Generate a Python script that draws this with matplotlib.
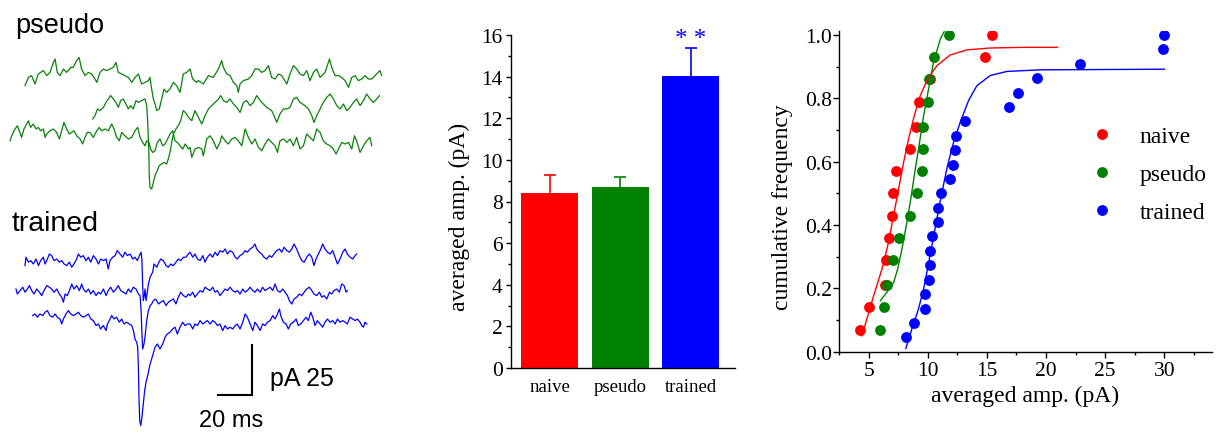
import numpy as np
import matplotlib.pyplot as plt
from matplotlib.ticker import MultipleLocator

plt.rcParams['font.family'] = ['Liberation Serif', 'DejaVu Serif']
SANS = ['Liberation Sans', 'DejaVu Sans']

# ---------------- example traces: (time ms, current pA relative to trace baseline)
pseudo_1 = [(14.7, -7.3), (16.7, -3.2), (18.6, -2.3), (20.6, -6.5), (22.5, -1.5), (25.5, 0.2), (27.5, -2.3),
            (29.4, -0.7), (31.4, 4.3), (32.4, 6.0), (33.7, -0.7), (35.3, -2.3), (37.3, 1.0), (39.2, -0.7),
            (41.6, 1.8), (43.1, 1.8), (45.1, 5.2), (46.5, 6.8), (48.0, 1.0), (50.0, -2.3), (52.0, -0.7),
            (53.9, -1.5), (55.9, -4.0), (56.9, -5.7), (58.8, -0.7), (60.8, 1.0), (62.7, 0.2), (64.7, 1.0),
            (66.7, 1.8), (68.2, 4.3), (69.6, -0.7), (71.6, -1.5), (73.5, -2.3), (75.5, -3.2), (77.5, -5.7),
            (79.4, -3.2), (81.4, -1.5), (83.3, -6.5), (85.3, -5.7), (87.3, -4.8), (88.2, -3.2), (89.2, -9.0),
            (90.2, -14.0), (91.2, -16.5), (92.2, -19.8), (93.7, -19.0), (95.1, -14.0), (96.5, -9.0),
            (98.0, -10.7), (100.0, -9.0), (102.0, -5.7), (103.9, -7.3), (105.9, -10.7), (107.8, -1.5),
            (109.8, -0.7), (111.8, 1.0), (113.3, -4.0), (115.7, -5.7), (116.7, -4.8), (119.6, -6.5),
            (122.6, -2.3), (125.5, -3.2), (128.5, 1.0), (130.4, 5.2), (131.4, 1.8), (133.4, -1.5),
            (135.3, -2.3), (137.3, -5.7), (139.3, -7.3), (140.2, -10.7), (141.2, -6.5), (143.2, -4.8),
            (146.1, -4.0), (148.1, -2.3), (150.0, 1.0), (152.0, 1.0), (154.0, -0.7), (155.9, 0.2),
            (157.9, 2.7), (159.8, -3.2), (161.8, -4.0), (163.8, -1.5), (165.7, -2.3), (168.7, -6.5),
            (170.6, -1.5), (172.6, 2.7), (174.5, 1.0), (176.5, -1.5), (178.5, -2.3), (180.4, 0.2),
            (182.4, -4.8), (184.4, -0.7), (186.3, 1.0), (188.3, -3.2), (191.2, -0.7), (193.8, 6.0),
            (195.1, 1.8), (197.1, -2.3), (199.1, -2.3), (201.0, -3.2), (203.0, -4.8), (205.0, -8.2),
            (206.9, -3.2), (208.9, -2.3), (210.8, -4.8), (212.8, -4.0), (214.7, -2.3), (216.7, -4.0),
            (218.7, -4.0), (220.6, -2.3), (223.5, 0.2), (224.5, -2.3)]

pseudo_2 = [(54.5, -6.0), (55.9, -4.3), (57.3, -1.0), (58.8, -1.8), (60.8, -0.2), (62.4, 2.3), (63.7, 4.0),
            (65.1, 5.7), (66.7, 4.0), (68.2, 2.3), (69.6, -0.2), (71.0, 3.2), (72.5, 4.0), (74.1, 1.5),
            (75.5, -1.0), (76.9, 0.7), (78.4, -1.0), (80.0, 3.2), (81.4, 2.3), (83.3, 3.2), (85.3, 4.0),
            (86.3, 0.7), (86.9, -7.7), (87.5, -21.0), (87.8, -34.3), (88.2, -40.2), (89.2, -41.0),
            (90.2, -37.7), (91.2, -34.3), (92.5, -31.8), (93.7, -29.3), (95.1, -28.5), (96.5, -27.7),
            (98.0, -28.5), (99.0, -26.0), (100.0, -22.7), (101.0, -17.7), (102.0, -13.5), (103.5, -11.0),
            (104.9, -9.3), (106.3, -6.8), (107.8, -1.8), (109.0, -2.7), (110.2, -4.3), (111.8, -6.0),
            (112.8, -6.8), (114.7, -1.8), (116.7, -5.2), (118.7, -8.5), (120.6, -4.3), (122.6, -1.0),
            (124.5, 0.7), (126.5, 2.3), (128.5, 4.0), (129.8, 5.7), (131.4, 3.2), (133.4, 2.3), (135.3, 4.0),
            (137.3, 1.5), (139.3, -0.2), (141.2, -2.7), (143.2, 2.3), (145.1, 3.2), (147.1, 0.7),
            (149.1, 2.3), (151.0, 5.7), (153.0, 3.2), (154.9, 1.5), (156.9, -0.2), (159.8, -1.8),
            (161.2, -4.3), (162.8, -7.7), (164.7, -3.5), (166.7, -1.0), (168.7, -1.0), (170.6, -0.2),
            (172.6, 4.0), (174.5, 4.8), (176.5, 2.3), (179.4, 0.7), (181.4, -1.0), (183.4, -4.3),
            (184.7, -7.7), (186.3, -4.3), (188.3, -1.0), (190.2, 2.3), (192.2, 4.8), (194.2, 6.5),
            (196.1, 4.0), (198.1, 0.7), (200.0, -1.0), (202.0, 1.5), (204.0, -1.8), (205.9, -0.2),
            (207.9, 2.3), (209.8, 4.0), (211.8, 0.7), (213.8, 3.2), (215.7, 6.5), (217.7, 4.0),
            (219.6, 2.3), (221.6, 4.0), (223.2, 5.7)]

pseudo_3 = [(5.9, -4.2), (6.9, -1.7), (8.8, 1.7), (10.2, 3.3), (11.4, 0.8), (12.7, -2.5), (14.1, 1.7),
            (15.7, 4.2), (16.7, 5.8), (18.0, 2.5), (19.6, 4.2), (21.2, 1.7), (22.5, 2.5), (23.9, 0.8),
            (25.5, 1.7), (26.5, -2.5), (27.5, -0.8), (29.4, 0.8), (31.4, 1.7), (33.3, 0.0), (34.9, -3.3),
            (36.3, 0.8), (37.6, 5.0), (39.2, 1.7), (40.8, -0.8), (42.2, 0.0), (43.5, 0.8), (45.1, -1.7),
            (47.1, -3.3), (48.6, -5.8), (50.0, -2.5), (51.4, 0.0), (52.9, 0.0), (54.9, -2.5), (56.9, 0.8),
            (58.4, 2.5), (59.8, 0.8), (61.8, 1.7), (63.7, 0.8), (65.7, 4.2), (67.1, 1.7), (68.6, -2.5),
            (70.2, -4.2), (71.6, 0.0), (73.5, -1.7), (75.5, -3.3), (77.5, -2.5), (79.4, 0.8), (81.0, 2.5),
            (82.4, -2.5), (83.9, -5.0), (85.3, -6.7), (86.3, -4.2), (87.6, -5.0), (88.6, -8.3),
            (89.8, -10.0), (91.2, -9.2), (92.5, -5.0), (94.1, -3.3), (95.7, -6.7), (97.1, -5.8),
            (98.6, -3.3), (100.0, -0.8), (101.6, 0.8), (102.9, -4.2), (104.3, -5.0), (105.9, -6.7),
            (107.5, -8.3), (109.0, -5.8), (110.8, -8.3), (111.8, -7.5), (112.8, -12.5), (114.7, -8.3),
            (116.7, -7.5), (118.7, -8.3), (119.6, -11.7), (121.6, -3.3), (123.6, -1.7), (125.5, -4.2),
            (127.5, -8.3), (129.4, -5.0), (130.4, -1.7), (132.4, -4.2), (134.3, -5.8), (136.3, -3.3),
            (138.3, -2.5), (140.2, -4.2), (142.2, -6.7), (144.2, 1.7), (146.1, -2.5), (148.1, -5.8),
            (150.0, -3.3), (152.0, -7.5), (154.0, -9.2), (155.9, -5.8), (157.9, -3.3), (159.8, -5.0),
            (161.8, -6.7), (163.2, -10.0), (164.7, -4.2), (166.7, -3.3), (168.7, -5.0), (170.6, -3.3),
            (172.6, -6.7), (174.5, -2.5), (176.5, -8.3), (178.5, -6.7), (180.4, -0.8), (182.4, -2.5),
            (184.4, -4.2), (186.3, 1.7), (188.3, 0.0), (190.2, -4.2), (192.2, -5.8), (194.2, -6.7),
            (196.1, -8.3), (197.7, -10.8), (199.1, -8.3), (201.0, -5.0), (203.0, -5.8), (205.0, -5.0),
            (206.9, -8.3), (208.5, -1.7), (209.8, -4.2), (211.8, -10.0), (213.8, -6.7), (215.7, -4.2),
            (217.6, -2.5), (218.7, -6.7)]

trained_1 = [(14.7, -2.5), (15.3, 1.7), (16.7, -0.8), (18.1, 0.0), (19.6, -1.7), (21.2, 0.8), (22.6, -2.5),
             (23.9, 0.0), (25.5, 1.7), (26.5, -1.7), (27.9, 0.8), (29.0, 3.3), (30.4, 2.5), (31.8, 0.0),
             (33.4, 0.8), (34.9, -0.8), (36.3, 0.0), (37.7, -1.7), (39.2, -2.5), (40.8, -0.8), (42.2, -3.3),
             (43.5, -1.7), (45.1, 0.8), (46.1, 3.3), (47.5, 1.7), (49.0, 2.5), (50.6, 0.0), (52.0, 1.7),
             (53.4, -0.8), (54.9, 2.5), (56.5, 0.8), (57.9, -1.7), (59.2, 0.8), (60.8, 0.0), (62.4, 0.8),
             (63.7, -4.2), (64.7, 0.0), (66.3, 1.7), (67.7, 2.5), (69.0, 5.0), (70.6, 3.3), (72.2, 1.7),
             (73.5, 4.2), (74.9, 2.5), (76.5, 3.3), (78.1, 0.8), (79.4, 1.7), (80.8, 0.0), (82.0, 2.5),
             (83.0, 4.2), (83.5, 0.0), (83.9, -11.7), (84.3, -20.0), (84.9, -17.5), (85.3, -14.2),
             (85.9, -20.0), (86.5, -16.7), (87.3, -11.7), (88.3, -8.3), (89.8, -5.8), (90.6, -1.7),
             (92.2, -3.3), (93.5, -0.8), (94.5, 0.8), (96.1, 0.0), (97.7, -2.5), (99.0, -3.3), (100.4, -1.7),
             (102.0, -2.5), (103.5, -0.8), (104.9, 0.8), (106.3, 0.0), (107.9, 1.7), (109.4, 1.7),
             (110.8, 3.3), (111.8, 4.2), (113.4, 1.7), (114.7, 3.3), (116.1, 0.8), (117.7, 0.0), (119.3, 2.5),
             (120.6, -0.8), (122.0, 1.7), (123.6, 3.3), (125.1, 1.7), (126.5, 4.2), (127.9, 2.5), (129.4, 5.0),
             (131.0, 4.2), (132.4, 5.8), (133.8, 3.3), (135.3, 5.0), (136.9, 4.2), (138.3, 1.7), (139.6, 0.8),
             (141.2, 2.5), (142.8, 3.3), (144.2, 5.0), (145.5, 4.2), (147.1, 5.8), (148.7, 6.7), (150.0, 8.3),
             (151.0, 5.8), (152.6, 4.2), (154.0, 3.3), (155.3, 1.7), (156.9, 0.8), (158.5, 2.5), (159.8, 1.7),
             (161.2, 3.3), (162.8, 5.0), (164.4, 5.8), (165.7, 4.2), (167.1, 6.7), (168.7, 5.0), (170.2, 4.2),
             (171.6, 5.8), (173.0, 8.3), (174.5, 5.8), (176.1, 2.5), (177.5, 0.0), (178.9, -0.8), (180.4, 1.7),
             (182.0, 3.3), (183.4, 1.7), (184.7, -2.5), (185.9, 0.8), (187.3, 3.3), (188.7, 5.8), (189.8, 8.3),
             (191.2, 5.8), (192.6, 4.2), (194.2, 3.3), (195.7, 5.0), (197.1, 1.7), (198.5, -1.7), (200.0, 0.8),
             (201.6, 4.2), (203.0, 5.8), (204.3, 3.3), (205.9, 1.7), (207.5, 0.8), (208.9, 2.5), (209.8, 3.3)]

trained_2 = [(9.4, 0.8), (10.2, -1.7), (11.8, 0.0), (13.4, 1.7), (14.7, -0.8), (16.1, 0.8), (17.3, 2.5),
             (18.6, 0.0), (20.0, -1.7), (21.6, 0.8), (23.2, -0.8), (24.5, -2.5), (25.9, 0.0), (27.5, 2.5),
             (29.0, 1.7), (30.4, 0.8), (31.8, -0.8), (33.4, 0.8), (34.9, -1.7), (36.3, -3.3), (37.3, -5.8),
             (38.3, -1.7), (39.6, -2.5), (41.2, 0.8), (42.2, 3.3), (43.5, 0.8), (45.1, 2.5), (46.7, 0.0),
             (48.1, 3.3), (49.0, 0.8), (50.6, -0.8), (52.0, 0.8), (53.4, -1.7), (54.9, 0.0), (56.5, -2.5),
             (57.9, -0.8), (59.2, -1.7), (60.8, 0.8), (62.4, -2.5), (63.7, 0.0), (65.1, 1.7), (66.7, -0.8),
             (68.3, 0.8), (69.6, 2.5), (71.0, 0.0), (72.6, -0.8), (74.1, -1.7), (75.5, 0.8), (76.9, -0.8),
             (78.4, 1.7), (80.0, 0.8), (81.4, -1.7), (82.4, -2.5), (83.0, -10.0), (83.5, -21.7),
             (83.9, -29.2), (84.7, -26.7), (85.5, -21.7), (86.3, -15.0), (87.3, -10.0), (88.3, -7.5),
             (89.2, -6.7), (90.2, -5.0), (91.6, -4.2), (93.2, -6.7), (94.5, -5.8), (96.1, -5.0), (97.7, -7.5),
             (99.0, -5.8), (100.4, -5.0), (102.0, -4.2), (103.5, -6.7), (104.9, -3.3), (106.3, -0.8),
             (107.9, -2.5), (109.4, -3.3), (110.8, -1.7), (111.8, -2.5), (113.4, -0.8), (114.7, -3.3),
             (116.1, -1.7), (117.7, 0.0), (119.3, -0.8), (120.6, 1.7), (122.0, 0.8), (123.6, 0.0),
             (125.1, 1.7), (126.5, -0.8), (127.9, 0.0), (129.4, -2.5), (131.0, -0.8), (132.4, 0.8),
             (133.8, 0.0), (135.3, 1.7), (136.9, 0.0), (138.3, -0.8), (139.6, 0.0), (141.2, -1.7),
             (142.8, 0.8), (144.2, -0.8), (145.5, 0.0), (147.1, 1.7), (148.7, 0.0), (150.0, -0.8),
             (151.4, 0.8), (153.0, -0.8), (154.5, 1.7), (155.9, 0.0), (157.3, 0.8), (158.9, 1.7),
             (160.4, 0.0), (161.8, 3.3), (163.2, 0.0), (164.7, -0.8), (166.3, 0.8), (167.7, -0.8),
             (169.1, -2.5), (170.2, -5.0), (171.6, -6.7), (173.0, -4.2), (174.5, -3.3), (176.1, -1.7),
             (177.5, -2.5), (178.9, -0.8), (180.4, 0.8), (182.0, 1.7), (183.4, 0.0), (184.7, -1.7),
             (186.3, -2.5), (187.9, -0.8), (189.3, -3.3), (190.6, -2.5), (192.2, -4.2), (193.8, -0.8),
             (195.1, -1.7), (196.5, 0.0), (198.1, 0.8), (199.6, -0.8), (201.0, 3.3), (202.4, 2.5),
             (203.6, -0.8), (204.3, 0.0)]

trained_3 = [(19.2, 0.0), (20.6, 0.8), (22.0, -0.8), (23.5, 0.8), (25.1, 0.0), (26.5, 1.7), (27.9, 2.5),
             (29.4, 0.0), (31.0, -0.8), (32.4, 0.8), (33.7, -0.8), (35.3, -1.7), (36.3, -4.2), (37.3, -1.7),
             (38.8, 0.8), (40.2, 2.5), (41.6, 0.8), (43.2, 0.0), (44.7, 0.8), (46.1, 1.7), (47.5, 0.0),
             (49.0, -0.8), (50.6, 0.0), (52.0, 0.8), (53.4, -1.7), (54.9, -2.5), (56.5, -5.0), (57.9, -4.2),
             (59.2, -6.7), (60.8, -5.0), (62.4, -7.5), (63.2, -4.2), (64.3, -2.5), (65.7, 0.0), (67.1, -1.7),
             (68.6, -0.8), (70.2, -3.3), (71.6, -1.7), (72.9, -4.2), (74.5, -3.3), (76.1, -4.2), (77.5, -5.0),
             (78.5, -7.5), (79.4, -11.7), (80.4, -13.3), (81.0, -15.8), (81.4, -25.8), (81.8, -42.5),
             (82.2, -52.5), (82.8, -55.0), (83.5, -50.8), (84.3, -44.2), (85.1, -37.5), (85.9, -33.3),
             (87.1, -29.2), (88.3, -24.2), (89.8, -20.0), (91.2, -15.8), (92.6, -14.2), (94.1, -16.7),
             (95.7, -14.2), (97.1, -10.8), (98.4, -9.2), (100.0, -8.3), (101.6, -6.7), (103.0, -5.8),
             (104.3, -9.2), (105.9, -5.8), (107.5, -3.3), (108.8, -5.0), (110.2, -4.2), (111.8, -4.2),
             (113.4, -6.7), (114.7, -4.2), (116.1, -5.0), (117.7, -2.5), (119.3, -4.2), (120.6, -3.3),
             (122.0, -2.5), (123.6, -4.2), (125.1, -2.5), (126.5, -3.3), (127.9, -5.0), (129.4, -4.2),
             (131.0, -7.5), (132.4, -5.0), (133.8, -6.7), (135.3, -5.8), (136.9, -6.7), (138.3, -5.0),
             (139.6, -4.2), (141.2, -6.7), (142.8, -3.3), (144.2, 0.8), (145.5, -0.8), (147.1, -4.2),
             (148.7, -7.5), (150.0, -3.3), (151.4, -5.0), (153.0, -7.5), (154.5, -4.2), (155.9, -5.0),
             (157.3, -3.3), (158.9, -2.5), (160.4, 0.0), (161.8, -1.7), (163.2, 0.8), (164.4, 3.3),
             (165.1, 0.0), (166.7, -3.3), (168.3, -4.2), (169.6, -6.7), (171.0, -4.2), (172.6, -3.3),
             (174.2, -1.7), (175.5, -5.0), (176.9, -4.2), (178.5, -2.5), (180.0, -0.8), (181.4, -2.5),
             (182.8, 1.7), (184.0, -0.8), (185.3, -5.0), (186.7, -2.5), (188.3, -4.2), (189.8, -5.8),
             (191.2, -3.3), (192.6, -1.7), (194.2, -3.3), (195.7, -2.5), (197.1, -4.2), (198.5, -1.7),
             (200.0, -3.3), (201.6, -2.5), (203.0, -3.3), (204.3, -4.2), (205.9, -0.8), (207.5, -1.7),
             (208.9, -2.5), (210.2, -1.7), (211.8, -3.3), (212.8, -5.0), (213.8, -5.8), (214.7, -3.3),
             (215.7, -4.2)]

# vertical stacking of the traces (pA)
pseudo_offsets = [-36.0, -54.0, -66.7]
trained_offsets = [-130.8, -145.8, -158.3]

# ---------------- bar chart
groups = ['naive', 'pseudo', 'trained']
mean_amp = [8.4, 8.7, 14.05]
sem_amp = [0.87, 0.46, 1.33]
colors = ['#ff0000', '#008000', '#0000ff']

# ---------------- cumulative frequency
naive_amp = [4.30, 5.00, 6.41, 6.49, 6.72, 7.00, 7.06, 7.28, 8.52, 9.03, 9.25, 10.21, 14.83, 15.39]
naive_cum = [0.07, 0.14, 0.21, 0.29, 0.36, 0.43, 0.50, 0.57, 0.64, 0.71, 0.79, 0.86, 0.93, 1.00]
pseudo_amp = [5.93, 6.32, 6.55, 7.06, 7.56, 8.52, 9.08, 9.53, 9.59, 9.59, 10.04, 10.10, 10.49, 11.78]
pseudo_cum = [0.07, 0.14, 0.21, 0.29, 0.36, 0.43, 0.50, 0.57, 0.64, 0.71, 0.79, 0.86, 0.93, 1.00]
trained_amp = [8.13, 8.80, 9.76, 9.81, 10.12, 10.18, 10.21, 10.32, 10.88, 10.88, 11.08, 11.90, 12.12,
               12.32, 12.38, 13.14, 16.85, 17.67, 19.27, 22.88, 29.86, 29.97]
trained_cum = [0.045, 0.091, 0.136, 0.182, 0.227, 0.273, 0.318, 0.364, 0.409, 0.455, 0.500, 0.545,
               0.591, 0.636, 0.682, 0.727, 0.773, 0.818, 0.864, 0.909, 0.955, 1.000]

# fitted curves
naive_fit_x = [4.44, 5.43, 6.13, 6.69, 7.11, 7.54, 7.96, 8.38, 8.86, 9.37, 9.99, 10.77, 11.90, 13.31,
               15.28, 18.10, 20.97]
naive_fit_y = [0.05, 0.177, 0.261, 0.346, 0.43, 0.514, 0.598, 0.672, 0.745, 0.809, 0.861, 0.903, 0.937,
               0.953, 0.959, 0.961, 0.961]
pseudo_fit_x = [6.0, 6.55, 7.12, 7.46, 7.82, 8.24, 8.61, 8.95, 9.31, 9.65, 10.07, 10.49, 11.06, 11.48]
pseudo_fit_y = [0.161, 0.188, 0.219, 0.261, 0.324, 0.409, 0.493, 0.577, 0.661, 0.745, 0.829, 0.914,
                0.987, 1.017]
trained_fit_x = [8.15, 8.66, 9.22, 9.65, 9.98, 10.35, 10.77, 11.20, 11.67, 12.18, 12.74, 13.45, 14.15,
                 15.28, 16.69, 19.50, 30.0]
trained_fit_y = [0.01, 0.072, 0.135, 0.198, 0.261, 0.335, 0.419, 0.503, 0.587, 0.661, 0.724, 0.793,
                 0.840, 0.872, 0.885, 0.890, 0.892]

W, H = 1217, 435
fig = plt.figure(figsize=(W / 100, H / 100), dpi=100)

# ---------------- left: traces
ax0 = fig.add_axes([0, 0, 400 / W, 1])
ax0.set_xlim(0, 400 / 1.7)
ax0.set_ylim(-H / 2, 0)
ax0.axis('off')
for tr, off in zip([pseudo_1, pseudo_2, pseudo_3], pseudo_offsets):
    t, i = np.array(tr).T
    ax0.plot(t, i + off, color='#0a800a', lw=0.9)
for tr, off in zip([trained_1, trained_2, trained_3], trained_offsets):
    t, i = np.array(tr).T
    ax0.plot(t, i + off, color='#0000ff', lw=0.9)

# scale bar 20 ms / 25 pA
ax0.plot([148 - 20, 148, 148], [-198, -198, -198 + 25], color='black', lw=1.5, solid_joinstyle='miter')
ax0.text(158.8, -189.5, 'pA 25', ha='left', va='center', fontsize=18, family=SANS)
ax0.text(136.2, -210.5, '20 ms', ha='center', va='center', fontsize=17, family=SANS)
ax0.text(8.8, -16.7, 'pseudo', ha='left', va='baseline', fontsize=19.5, family=SANS)
ax0.text(6.9, -115.3, 'trained', ha='left', va='baseline', fontsize=20.5, family=SANS)

# ---------------- middle: bar chart
ax1 = fig.add_axes([511 / W, 1 - 369 / H, 224 / W, 333 / H])
x = np.arange(len(groups))
ax1.bar(x, mean_amp, width=0.81, color=colors, zorder=2)
for xi, m, s, c in zip(x, mean_amp, sem_amp, colors):
    # symmetric bar hidden below the bar top, so only the upper half shows
    ax1.errorbar(xi, m, yerr=s, fmt='none', ecolor=c, elinewidth=1.2, capsize=4.5,
                 capthick=1.2, zorder=1)
ax1.text(2, 15.5, '* *', ha='center', va='baseline', color='#0000ff', fontsize=18)
ax1.set_xlim(-0.55, 2.63)
ax1.set_ylim(0, 16)
ax1.set_xticks(x)
ax1.set_xticklabels(groups, fontsize=13.5)
ax1.tick_params(axis='x', length=0, pad=7)
ax1.yaxis.set_major_locator(MultipleLocator(2))
ax1.yaxis.set_minor_locator(MultipleLocator(1))
ax1.tick_params(axis='y', which='major', length=3.5, width=1, labelsize=15.5, pad=2.5)
ax1.tick_params(axis='y', which='minor', length=2, width=1)
for sp in ['top', 'right']:
    ax1.spines[sp].set_visible(False)
for sp in ['left', 'bottom']:
    ax1.spines[sp].set_linewidth(1)
ax1.set_ylabel('averaged amp. (pA)', fontsize=17)
ax1.yaxis.set_label_coords(-0.183, 0.456)

# ---------------- right: cumulative frequency
ax2 = fig.add_axes([839 / W, 1 - 352.7 / H, 372.7 / W, 321 / H])
ax2.plot(naive_amp, naive_cum, 'o', color='#ff0000', ms=7.8, mec='none', label='naive')
ax2.plot(pseudo_amp, pseudo_cum, 'o', color='#008000', ms=7.8, mec='none', label='pseudo')
ax2.plot(trained_amp, trained_cum, 'o', color='#0000ff', ms=7.8, mec='none', label='trained')
ax2.plot(naive_fit_x, naive_fit_y, color='#ff0000', lw=1)
ax2.plot(pseudo_fit_x, pseudo_fit_y, color='#008000', lw=1)
ax2.plot(trained_fit_x, trained_fit_y, color='#0000ff', lw=1)
ax2.set_xlim(2.5, 34)
ax2.set_ylim(0, 1.0136)
ax2.xaxis.set_major_locator(MultipleLocator(5))
ax2.xaxis.set_minor_locator(MultipleLocator(2.5))
ax2.yaxis.set_major_locator(MultipleLocator(0.2))
ax2.yaxis.set_minor_locator(MultipleLocator(0.1))
ax2.yaxis.set_major_formatter(plt.FormatStrFormatter('%.1f'))
ax2.tick_params(which='major', length=4, width=1, labelsize=15.5)
ax2.tick_params(which='minor', length=2.4, width=1)
ax2.tick_params(axis='x', pad=2.5)
ax2.tick_params(axis='y', pad=1)
for sp in ['top', 'right']:
    ax2.spines[sp].set_visible(False)
for sp in ['left', 'bottom']:
    ax2.spines[sp].set_linewidth(1)
ax2.set_xlabel('averaged amp. (pA)', fontsize=17)
ax2.xaxis.set_label_coords(0.499, -0.103)
ax2.set_ylabel('cumulative frequency', fontsize=17)
ax2.yaxis.set_label_coords(-0.1226, 0.452)
ax2.legend(loc='upper left', bbox_to_anchor=(0.673, 0.705), frameon=False, fontsize=17,
           handlelength=1.0, handletextpad=1.1, labelspacing=0.7, borderpad=0, borderaxespad=0)

fig.savefig('out.png', dpi=100)
